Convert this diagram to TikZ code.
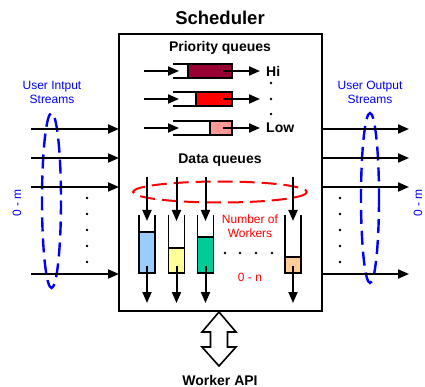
\documentclass[tikz,border=0pt]{standalone}
\usepackage{fontspec}
\setmainfont{Liberation Sans}
\usetikzlibrary{arrows.meta}

\definecolor{streamblue}{RGB}{0,0,255}
\definecolor{workred}{RGB}{255,0,0}
\definecolor{hiq}{RGB}{153,0,51}
\definecolor{midq}{RGB}{255,0,0}
\definecolor{lowq}{RGB}{255,153,153}
\definecolor{wq1}{RGB}{153,204,255}
\definecolor{wq2}{RGB}{255,255,153}
\definecolor{wq3}{RGB}{0,204,153}
\definecolor{wq4}{RGB}{255,204,153}

\tikzset{
  frame/.style={line width=2pt},
  flow/.style={line width=2pt, -{Triangle[length=11pt,width=9pt]}},
  qline/.style={line width=1.6pt},
  title/.style={font=\fontsize{18.5}{20}\selectfont\bfseries, inner sep=0pt},
  heading/.style={font=\fontsize{14}{16}\selectfont\bfseries, inner sep=0pt},
  bluetext/.style={font=\fontsize{12}{14}\selectfont, text=streamblue, align=center, inner sep=0pt},
  redtext/.style={font=\fontsize{12}{14}\selectfont, text=workred, align=center, inner sep=0pt},
  streamring/.style={draw=streamblue, line width=2.4pt, dash pattern=on 14pt off 7pt},
  workerring/.style={draw=workred, line width=2pt, dash pattern=on 15pt off 7pt},
  dotmark/.style={fill=black},
  apiarrow/.style={draw, line width=1.6pt, fill=white, line join=miter},
}

\begin{document}
\begin{tikzpicture}[x=1pt,y=-1pt]
\useasboundingbox (0,0) rectangle (425,387);

% scheduler frame
\coordinate (sNW) at (119,34);
\coordinate (sSE) at (322,311);
\draw[frame] (sNW) rectangle (sSE);
\node[title] (title) at (220,18) {Scheduler};

% priority queues
\node[heading] (prio) at (220,48) {Priority queues};
\foreach \y/\fx/\col/\n in {71/188/hiq/hi, 99/196/midq/mid, 128/210/lowq/low}{
  \fill[\col] (\fx,\y-7) rectangle (232,\y+7);
  \draw[qline] (\fx,\y-7) -- (\fx,\y+7);
  \draw[qline] (173,\y-7) -- (232,\y-7) -- (232,\y+7) -- (173,\y+7);
  \coordinate (pin\n) at (144,\y);
  \coordinate (pq\n) at (179,\y);
  \coordinate (pout\n) at (223,\y);
  \coordinate (pend\n) at (260,\y);
  \draw[flow] (pin\n) -- (pq\n);
  \draw[flow] (pout\n) -- (pend\n);
}
\node[heading, anchor=west] (hilbl) at (266,71) {Hi};
\node[heading, anchor=west] (lowlbl) at (266,128) {Low};
\foreach \y in {83,99,114}{ \fill[dotmark] (271,\y) circle (1.4); }

% user input / output streams
\draw[streamring] (51.5,200.5) ellipse [x radius=9.5, y radius=87.5];
\draw[streamring] (370,198) ellipse [x radius=9, y radius=85];
\foreach \y/\n in {129/a, 158/b, 187/c, 274/d}{
  \coordinate (in\n) at (31,\y);
  \coordinate (inend\n) at (119,\y);
  \coordinate (out\n) at (322,\y);
  \coordinate (outend\n) at (409,\y);
  \draw[flow] (in\n) -- (inend\n);
  \draw[flow] (out\n) -- (outend\n);
}
\foreach \y in {198,214,230,246,262}{
  \fill[dotmark] (87,\y) circle (1.4);
  \fill[dotmark] (340,\y) circle (1.4);
}
\node[bluetext] (inlbl) at (52,92) {User Intput\\Streams};
\node[bluetext] (outlbl) at (370,92) {User Output\\Streams};
\node[bluetext, rotate=90] (inrange) at (17,203) {0 - m};
\node[bluetext, rotate=90] (outrange) at (418,203) {0 - m};

% data queues
\node[heading] (dataq) at (220,160) {Data queues};
\draw[workerring] (220,192) ellipse [x radius=87, y radius=10.5];
\foreach \cx/\ft/\col/\n in {147/232/wq1/a, 176.5/248/wq2/b, 205.5/237/wq3/c, 293/257/wq4/d}{
  \fill[\col] (\cx-8,\ft) rectangle (\cx+8,273);
  \draw[qline] (\cx-8,\ft) -- (\cx+8,\ft);
  \draw[qline] (\cx-8,215) -- (\cx-8,273) -- (\cx+8,273) -- (\cx+8,215);
  \coordinate (dtop\n) at (\cx,177);
  \coordinate (dtip\n) at (\cx,221);
  \coordinate (dbot\n) at (\cx,266);
  \coordinate (dend\n) at (\cx,303);
  \draw[flow] (dtop\n) -- (dtip\n);
  \draw[flow] (dbot\n) -- (dend\n);
}
\foreach \x in {225,240,256,272}{ \fill[dotmark] (\x,253) circle (1.4); }
\node[redtext] (nworkers) at (250,226) {Number of\\Workers};
\node[redtext] (nrange) at (250,277) {0 - n};

% worker API double arrow
\draw[apiarrow] (219,312) -- (236,332) -- (227.5,332) -- (227.5,347) -- (236,347)
  -- (219,366) -- (202,347) -- (210.5,347) -- (210.5,332) -- (202,332) -- cycle;
\node[heading] (api) at (220,380) {Worker API};
\end{tikzpicture}
\end{document}
